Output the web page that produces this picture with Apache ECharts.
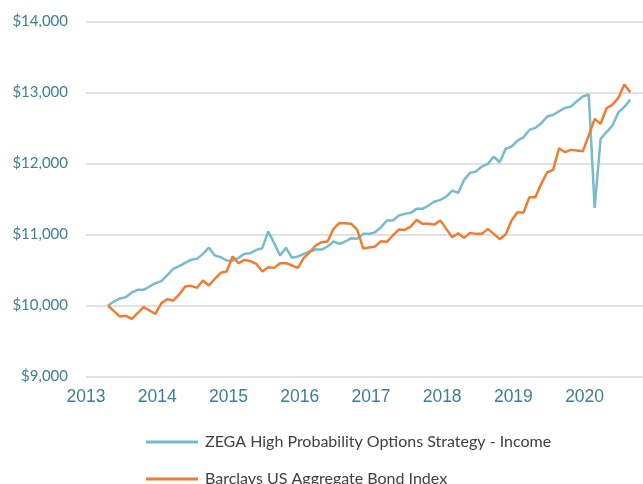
<!DOCTYPE html>
<html>
<head>
<meta charset="utf-8">
<script src="https://cdn.jsdelivr.net/npm/echarts@6/dist/echarts.min.js"></script>
<style>
  html, body { margin: 0; padding: 0; background: #fff; }
  #main { width: 643px; height: 484px; }
</style>
</head>
<body>
<div id="main"></div>
<script>
// monthly values, May 2013 - Sep 2020
var startYear = 2013, startMonth = 5;
var zegaName = 'ZEGA High Probability Options Strategy - Income';
var aggName = 'Barclays US Aggregate Bond Index';

var zega = [10000,10056,10099,10117,10183,10221,10221,10268,10315,10343,
	10427,10516,10554,10601,10643,10657,10727,10815,10704,10681,
	10634,10630,10671,10728,10737,10784,10807,11042,10878,10704,
	10812,10671,10690,10728,10760,10788,10788,10831,10901,10869,
	10901,10948,10939,11009,11009,11032,11103,11197,11197,11267,
	11291,11305,11361,11361,11408,11464,11488,11535,11619,11586,
	11769,11868,11887,11957,11995,12098,12018,12206,12239,12323,
	12370,12473,12502,12568,12661,12685,12736,12783,12802,12877,
	12943,12971,11375,12347,12441,12535,12722,12797,12900];

var agg = [10000,9920,9845,9855,9812,9892,9977,9930,9883,10033,
	10089,10070,10155,10268,10277,10249,10352,10282,10375,10460,
	10479,10690,10595,10643,10624,10587,10479,10540,10530,10596,
	10596,10563,10530,10671,10751,10845,10892,10901,11079,11163,
	11160,11150,11065,10803,10817,10831,10906,10897,10986,11070,
	11065,11112,11206,11150,11150,11140,11197,11079,10962,11018,
	10953,11023,11009,11009,11079,11009,10934,11000,11197,11314,
	11305,11525,11525,11713,11877,11910,12215,12159,12192,12182,
	12173,12394,12628,12558,12778,12830,12924,13112,13004];

var yearTicks = [2013, 2014, 2015, 2016, 2017, 2018, 2019, 2020];

// month position on the year axis (same offset as the source's labels)
function monthX(i) {
	var m = startMonth - 1 + i;
	return startYear + Math.floor(m / 12) + ((m % 12) - 0.3) / 12;
}

function pairs(arr) {
	var out = [];
	for (var i = 0; i < arr.length; i++) {
		out.push([monthX(i), arr[i]]);
	}
	return out;
}

var tickColor = '#3e7e92';
var font = 'Lato, "Open Sans", sans-serif';

// one legend box per row, like the source
function legendRow(name, top) {
	return {
		left: 141,
		top: top,
		icon: 'rect',
		itemWidth: 52,
		itemHeight: 3,
		textStyle: { color: '#404040', fontFamily: font, fontSize: 16, padding: [0, 0, 0, 2] },
		data: [name]
	};
}

var myChart = echarts.init(document.getElementById('main'));
var option = {
	animation: false,
	grid: { left: 86, right: 0, top: 21.5, bottom: 107.5, containLabel: false },
	xAxis: {
		type: 'value',
		min: 2013,
		max: 2020.82,
		interval: 1,
		axisLine: { show: false },
		axisTick: { show: false },
		splitLine: { show: false },
		axisLabel: {
			color: tickColor,
			fontFamily: '"Liberation Sans", Arial, sans-serif',
			fontSize: 17.5,
			margin: 12,
			showMaxLabel: false,
			formatter: function (v) {
				return yearTicks.indexOf(v) >= 0 ? String(v) : '';
			}
		}
	},
	yAxis: {
		type: 'value',
		min: 9000,
		max: 14000,
		interval: 1000,
		axisLine: { show: false },
		axisTick: { show: false },
		splitLine: { lineStyle: { color: '#d9d9d9', width: 1.5 } },
		axisLabel: {
			color: tickColor,
			fontFamily: font,
			fontSize: 15,
			margin: 18,
			formatter: function (v) {
				return '$' + v.toLocaleString('en-US');
			}
		}
	},
	legend: [legendRow(zegaName, 429), legendRow(aggName, 466)],
	series: [
		{
			name: zegaName,
			type: 'line',
			data: pairs(zega),
			showSymbol: false,
			symbol: 'none',
			lineStyle: { color: '#77bbcc', width: 2.5 },
			itemStyle: { color: '#77bbcc' },
			z: 2
		},
		{
			name: aggName,
			type: 'line',
			data: pairs(agg),
			showSymbol: false,
			symbol: 'none',
			lineStyle: { color: '#ed7d31', width: 2.5 },
			itemStyle: { color: '#ed7d31' },
			z: 3
		}
	]
};
myChart.setOption(option);
</script>
</body>
</html>
